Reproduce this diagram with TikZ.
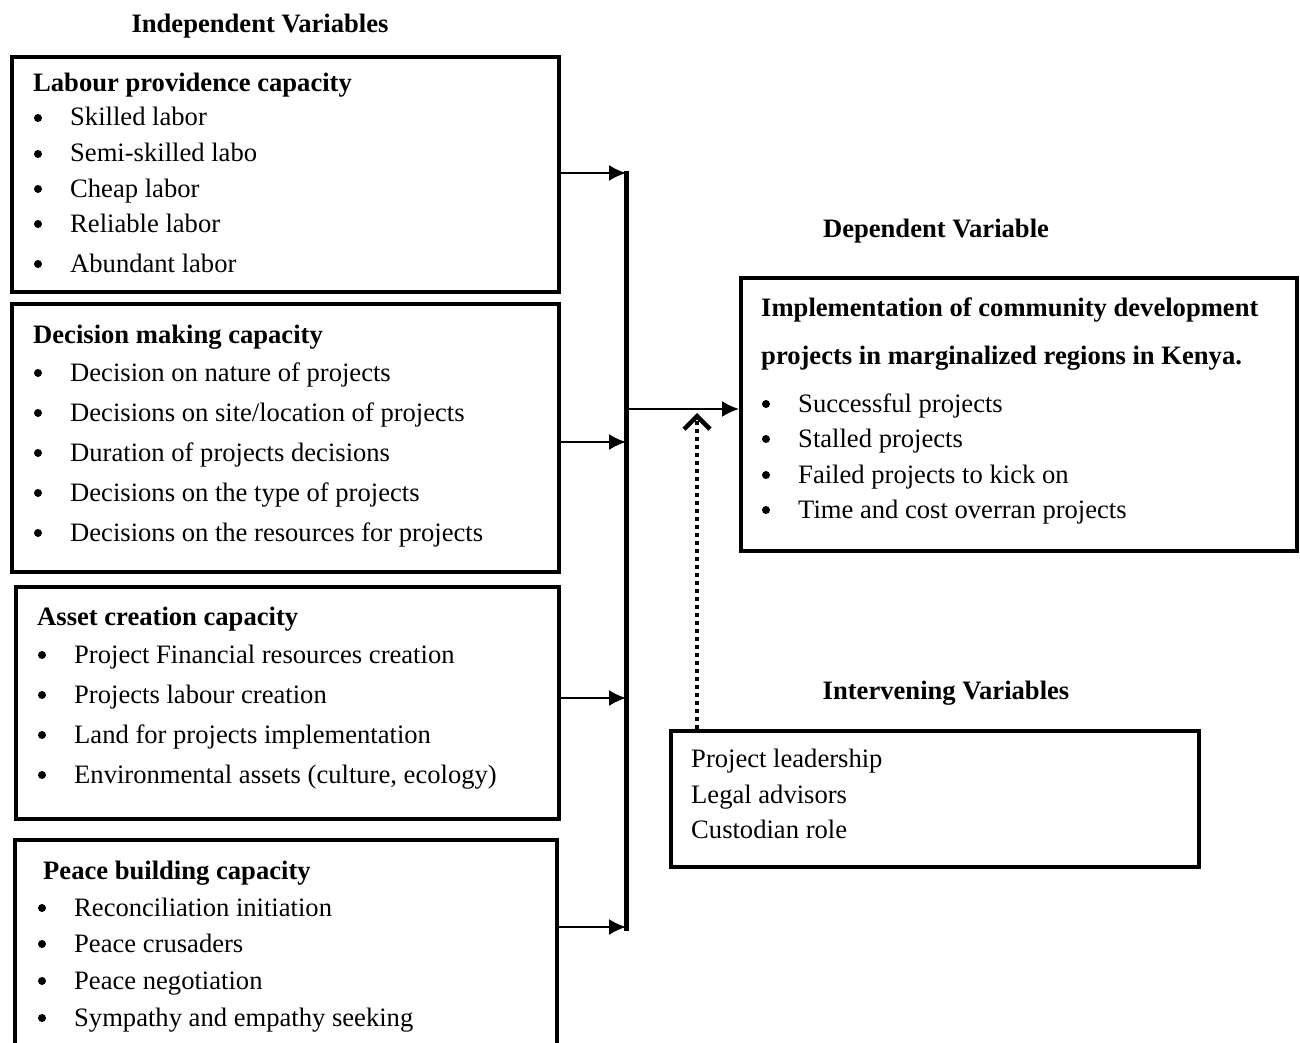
\documentclass[tikz,border=0pt]{standalone}
\usepackage{fontspec}
\setmainfont{Liberation Serif}
\usetikzlibrary{arrows.meta}
\begin{document}
\begin{tikzpicture}[x=1pt,y=-1pt,
 box/.style={draw, line width=4pt, inner sep=0pt, anchor=north west},
 txt/.style={anchor=base west, inner sep=0pt, font=\fontsize{26.6}{30}\selectfont},
 hd/.style={anchor=base west, inner sep=0pt, font=\fontsize{26.6}{30}\selectfont\bfseries},
 heading/.style={anchor=base, inner sep=0pt, font=\fontsize{26.6}{30}\selectfont\bfseries},
 bul/.style={circle, fill, inner sep=0pt, minimum size=8pt},
 arr/.style={line width=2pt, -{Latex[length=17pt,width=16pt]}},
 barline/.style={line width=5pt},
 dotline/.style={line width=4pt, dash pattern=on 4pt off 4pt, -{Straight Barb[length=13pt,width=26pt,line width=4.5pt]}},
]
\useasboundingbox (0,0) rectangle (1300,1043);
\clip (0,0) rectangle (1300,1043);

% headings
\node[heading] (hIndep) at (260,33) {Independent Variables};
\node[heading] (hDep) at (936,237) {Dependent Variable};
\node[heading] (hInt) at (946,699) {Intervening Variables};

% boxes
\node[box, minimum width=547pt, minimum height=235pt] (b1) at (10,55) {};
\node[box, minimum width=547pt, minimum height=268pt] (b2) at (10,302) {};
\node[box, minimum width=543pt, minimum height=232pt] (b3) at (14,585) {};
\node[box, minimum width=542pt, minimum height=240pt] (b4) at (13,838) {};
\node[box, minimum width=556pt, minimum height=273pt] (dep) at (739,276) {};
\node[box, minimum width=528pt, minimum height=136pt] (int) at (669,729) {};

% box 1
\node[hd] (t1) at (33,92) {Labour providence capacity};
\foreach \y/\s [count=\i] in {126/Skilled labor,162/Semi-skilled labo,197/Cheap labor,232/Reliable labor,272/Abundant labor}{
  \node[bul] (b1d\i) at (38,\y-8) {};
  \node[txt] (b1t\i) at (70,\y) {\s};
}
% box 2
\node[hd] (t2) at (33,343) {Decision making capacity};
\foreach \y/\s [count=\i] in {381/Decision on nature of projects,421/{Decisions on site/location of projects},461/Duration of projects decisions,501/Decisions on the type of projects,541/Decisions on the resources for projects}{
  \node[bul] (b2d\i) at (38,\y-8) {};
  \node[txt] (b2t\i) at (70,\y) {\s};
}
% box 3
\node[hd] (t3) at (37,625) {Asset creation capacity};
\foreach \y/\s [count=\i] in {663/Project Financial resources creation,703/Projects labour creation,743/Land for projects implementation,783/{Environmental assets (culture, ecology)}}{
  \node[bul] (b3d\i) at (42,\y-8) {};
  \node[txt] (b3t\i) at (74,\y) {\s};
}
% box 4
\node[hd] (t4) at (43,879) {Peace building capacity};
\foreach \y/\s [count=\i] in {916/Reconciliation initiation,952/Peace crusaders,989/Peace negotiation,1026/Sympathy and empathy seeking}{
  \node[bul] (b4d\i) at (42,\y-8) {};
  \node[txt] (b4t\i) at (74,\y) {\s};
}
% dependent
\node[hd] (td1) at (761,316) {Implementation of community development};
\node[hd] (td2) at (761,364) {projects in marginalized regions in Kenya.};
\foreach \y/\s [count=\i] in {412/Successful projects,447/Stalled projects,483/Failed projects to kick on,518/Time and cost overran projects}{
  \node[bul] (dd\i) at (766,\y-8) {};
  \node[txt] (dt\i) at (798,\y) {\s};
}
% intervening
\node[txt] (it1) at (691,767) {Project leadership};
\node[txt] (it2) at (691,803) {Legal advisors};
\node[txt] (it3) at (691,838) {Custodian role};

% connectors
\coordinate (bartop) at (626,171);
\coordinate (barbot) at (626,931);
\coordinate (j1) at (626,173);
\coordinate (j2) at (626,442);
\coordinate (j3) at (626,698);
\coordinate (j4) at (626,927);
\coordinate (j0) at (626,409);
\coordinate (dotin) at (697,413);
\draw[barline] (bartop) -- (barbot);
\draw[arr] (b1.east |- j1) -- (j1);
\draw[arr] (b2.east |- j2) -- (j2);
\draw[arr] (b3.east |- j3) -- (j3);
\draw[arr] (b4.east |- j4) -- (j4);
\draw[arr] (j0) -- (dep.west |- j0);
\draw[dotline] (int.north -| dotin) -- (dotin);
\end{tikzpicture}
\end{document}
